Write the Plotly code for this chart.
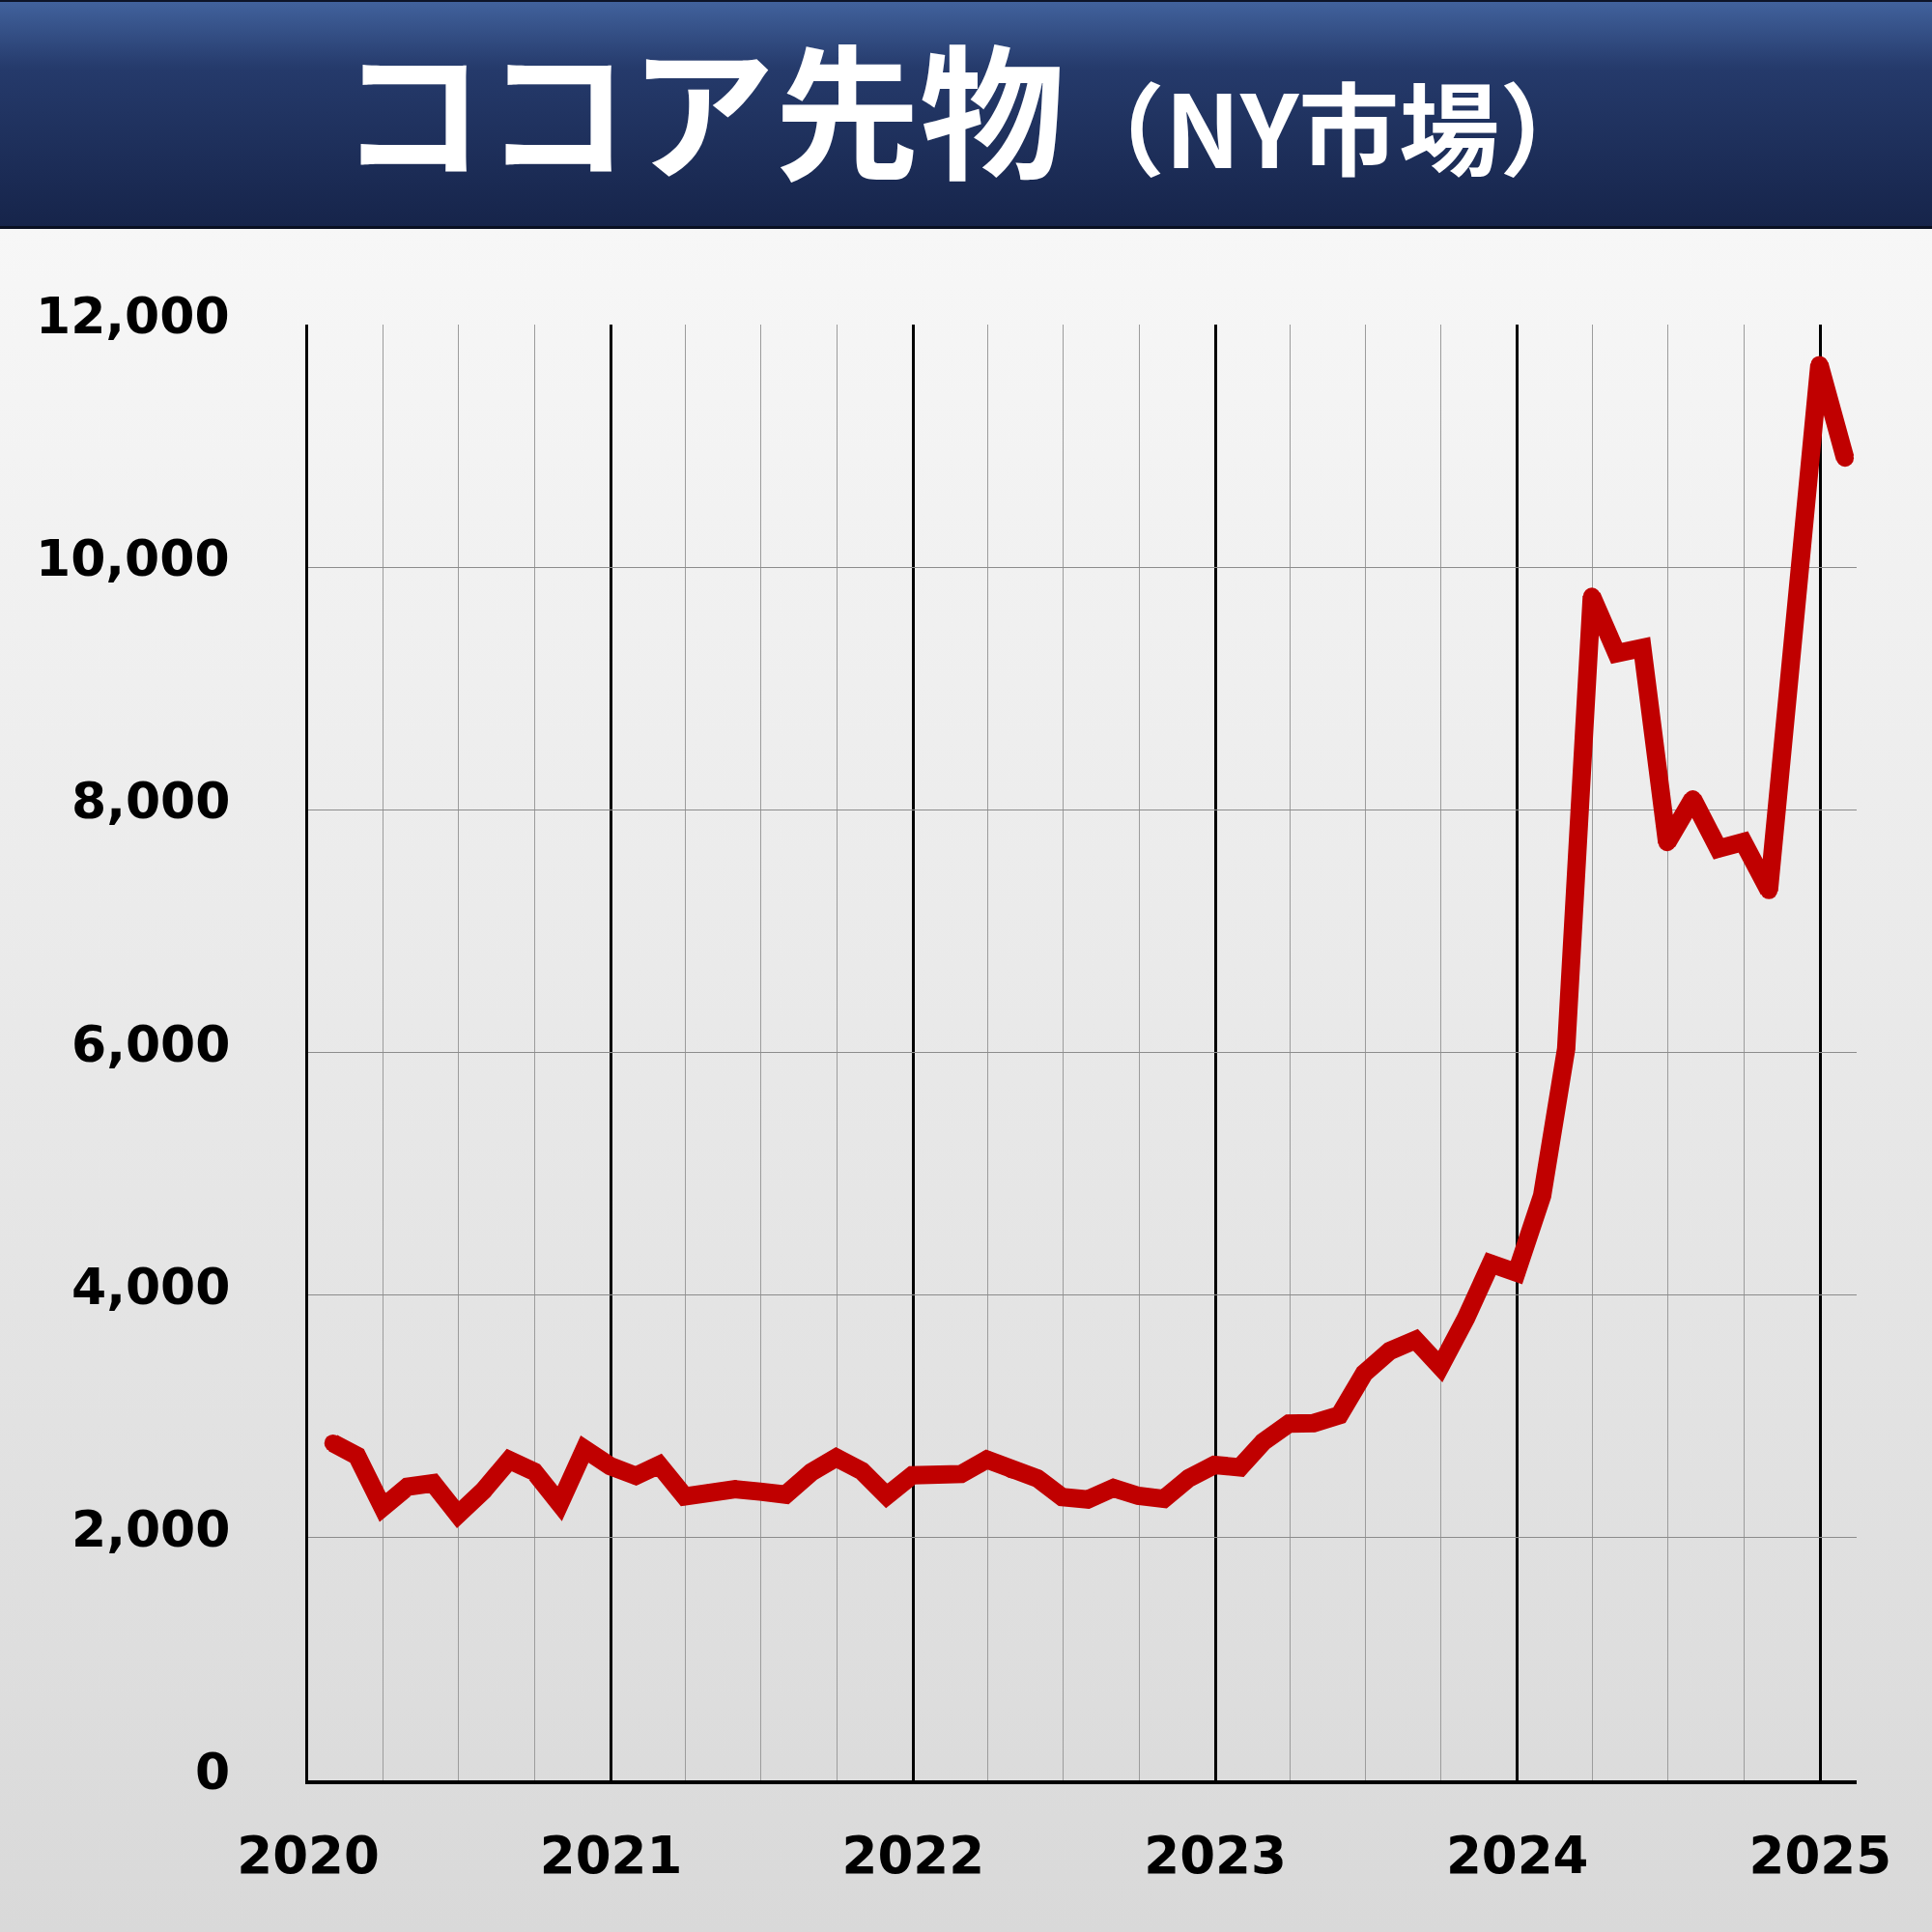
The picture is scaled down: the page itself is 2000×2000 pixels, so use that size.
import base64
import plotly.graph_objects as go

# ---- data ----
dates = [
    "2020-01-31", "2020-02-29", "2020-03-31", "2020-04-30", "2020-05-31", "2020-06-30",
    "2020-07-31", "2020-08-31", "2020-09-30", "2020-10-31", "2020-11-30", "2020-12-31",
    "2021-01-31", "2021-02-28", "2021-03-31", "2021-04-30", "2021-05-31", "2021-06-30",
    "2021-07-31", "2021-08-31", "2021-09-30", "2021-10-31", "2021-11-30", "2021-12-31",
    "2022-01-31", "2022-02-28", "2022-03-31", "2022-04-30", "2022-05-31", "2022-06-30",
    "2022-07-31", "2022-08-31", "2022-09-30", "2022-10-31", "2022-11-30", "2022-12-31",
    "2023-01-31", "2023-02-28", "2023-03-31", "2023-04-30", "2023-05-31", "2023-06-30",
    "2023-07-31", "2023-08-31", "2023-09-30", "2023-10-31", "2023-11-30", "2023-12-31",
    "2024-01-31", "2024-02-29", "2024-03-31", "2024-04-30", "2024-05-31", "2024-06-30",
    "2024-07-31", "2024-08-31", "2024-09-30", "2024-10-31", "2024-11-30", "2024-12-31",
    "2025-01-31",
]
prices = [
    2780, 2675, 2250, 2420, 2450, 2190, 2390, 2640, 2545, 2280, 2730, 2590,
    2510, 2600, 2340, 2370, 2400, 2380, 2355, 2540, 2660, 2550, 2345, 2515,
    2520, 2525, 2645, 2560, 2490, 2335, 2315, 2410, 2345, 2320, 2490, 2600,
    2580, 2790, 2940, 2945, 3010, 3355, 3540, 3630, 3410, 3810, 4260, 4185,
    4820, 6030, 9760, 9290, 9335, 7730, 8090, 7680, 7735, 7335, 9500, 11670,
    10900,
]
y_ticks = [0, 2000, 4000, 6000, 8000, 10000, 12000]
title_main = "ココア先物"
title_sub = "（NY市場）"

# ---- layout constants ----
W, H = 2000, 2000
ML, MR, MT, MB = 319, 78, 336, 157
PW, PH = W - ML - MR, H - MT - MB
HEADER_H = 236

svg = f'''<svg xmlns="http://www.w3.org/2000/svg" width="{W}" height="{H}">
<defs>
<linearGradient id="bg" x1="0" y1="0" x2="0" y2="1">
<stop offset="0" stop-color="#fbfbfb"/><stop offset="1" stop-color="#d9d9d9"/>
</linearGradient>
<linearGradient id="hd" x1="0" y1="0" x2="0" y2="1">
<stop offset="0" stop-color="#42639e"/><stop offset="0.3" stop-color="#253a6b"/>
<stop offset="1" stop-color="#16244a"/>
</linearGradient>
</defs>
<rect width="{W}" height="{H}" fill="url(#bg)"/>
<rect width="{W}" height="{HEADER_H}" fill="url(#hd)"/>
<rect y="0" width="{W}" height="2" fill="#0d1428"/>
<rect y="{HEADER_H-2}" width="{W}" height="3" fill="#0a1022"/>
</svg>'''
src = "data:image/svg+xml;base64," + base64.b64encode(svg.encode("utf-8")).decode("ascii")


def px_to_paper_x(px):
    return (px - ML) / PW


def px_to_paper_y(py):
    return (H - MB - py) / PH


fig = go.Figure()
fig.add_trace(go.Scatter(
    x=dates, y=prices, mode="lines+markers",
    line=dict(color="#c00000", width=19),
    marker=dict(color="#c00000", size=18, line=dict(width=0)),
    hoverinfo="skip", showlegend=False,
))

annotations = [dict(
    xref="paper", yref="paper",
    x=px_to_paper_x(1004), y=px_to_paper_y(108),
    xanchor="center", yanchor="middle",
    text=f"<b>{title_main}<span style='font-size:104px'>{title_sub}</span></b>",
    showarrow=False,
    font=dict(family="Noto Sans CJK JP", size=150, color="white"),
)]
# y tick labels (drawn on the y scale, nudged up like the original)
for v in y_ticks:
    annotations.append(dict(
        xref="paper", yref="y", x=px_to_paper_x(240), y=v,
        xanchor="right", yanchor="middle", yshift=9,
        text=f"<b>{v:,}</b>", showarrow=False,
        font=dict(family="DejaVu Sans", size=52, color="#000000"),
    ))

fig.update_layout(
    width=W, height=H,
    margin=dict(l=ML, r=MR, t=MT, b=MB, pad=0),
    paper_bgcolor="rgba(0,0,0,0)",
    plot_bgcolor="rgba(0,0,0,0)",
    showlegend=False,
    images=[dict(
        source=src, xref="paper", yref="paper",
        x=px_to_paper_x(0), y=px_to_paper_y(0),
        sizex=W / PW, sizey=H / PH,
        xanchor="left", yanchor="top", sizing="stretch", layer="below",
    )],
    annotations=annotations,
)

fig.update_xaxes(
    type="date",
    range=["2020-01-01", "2025-02-14"],
    tick0="2020-01-01", dtick="M12", tickformat="%Y",
    showgrid=True, gridcolor="#000000", gridwidth=3,
    minor=dict(dtick="M3", showgrid=True, gridcolor="#9c9c9c", gridwidth=1),
    showline=True, linecolor="#000000", linewidth=4,
    ticks="", ticklabelstandoff=28,
    tickfont=dict(family="DejaVu Sans", size=53, color="#000000", weight="bold"),
    zeroline=False, fixedrange=True,
)
fig.update_yaxes(
    range=[0, 12000],
    tickvals=y_ticks, showticklabels=False,
    showgrid=True, gridcolor="#8c8c8c", gridwidth=1,
    showline=True, linecolor="#000000", linewidth=3,
    ticks="",
    zeroline=False, fixedrange=True,
)

fig.write_html(
    "out.html",
    config={"displayModeBar": False},
    post_script="document.body.style.margin='0';document.body.style.padding='0';",
)
